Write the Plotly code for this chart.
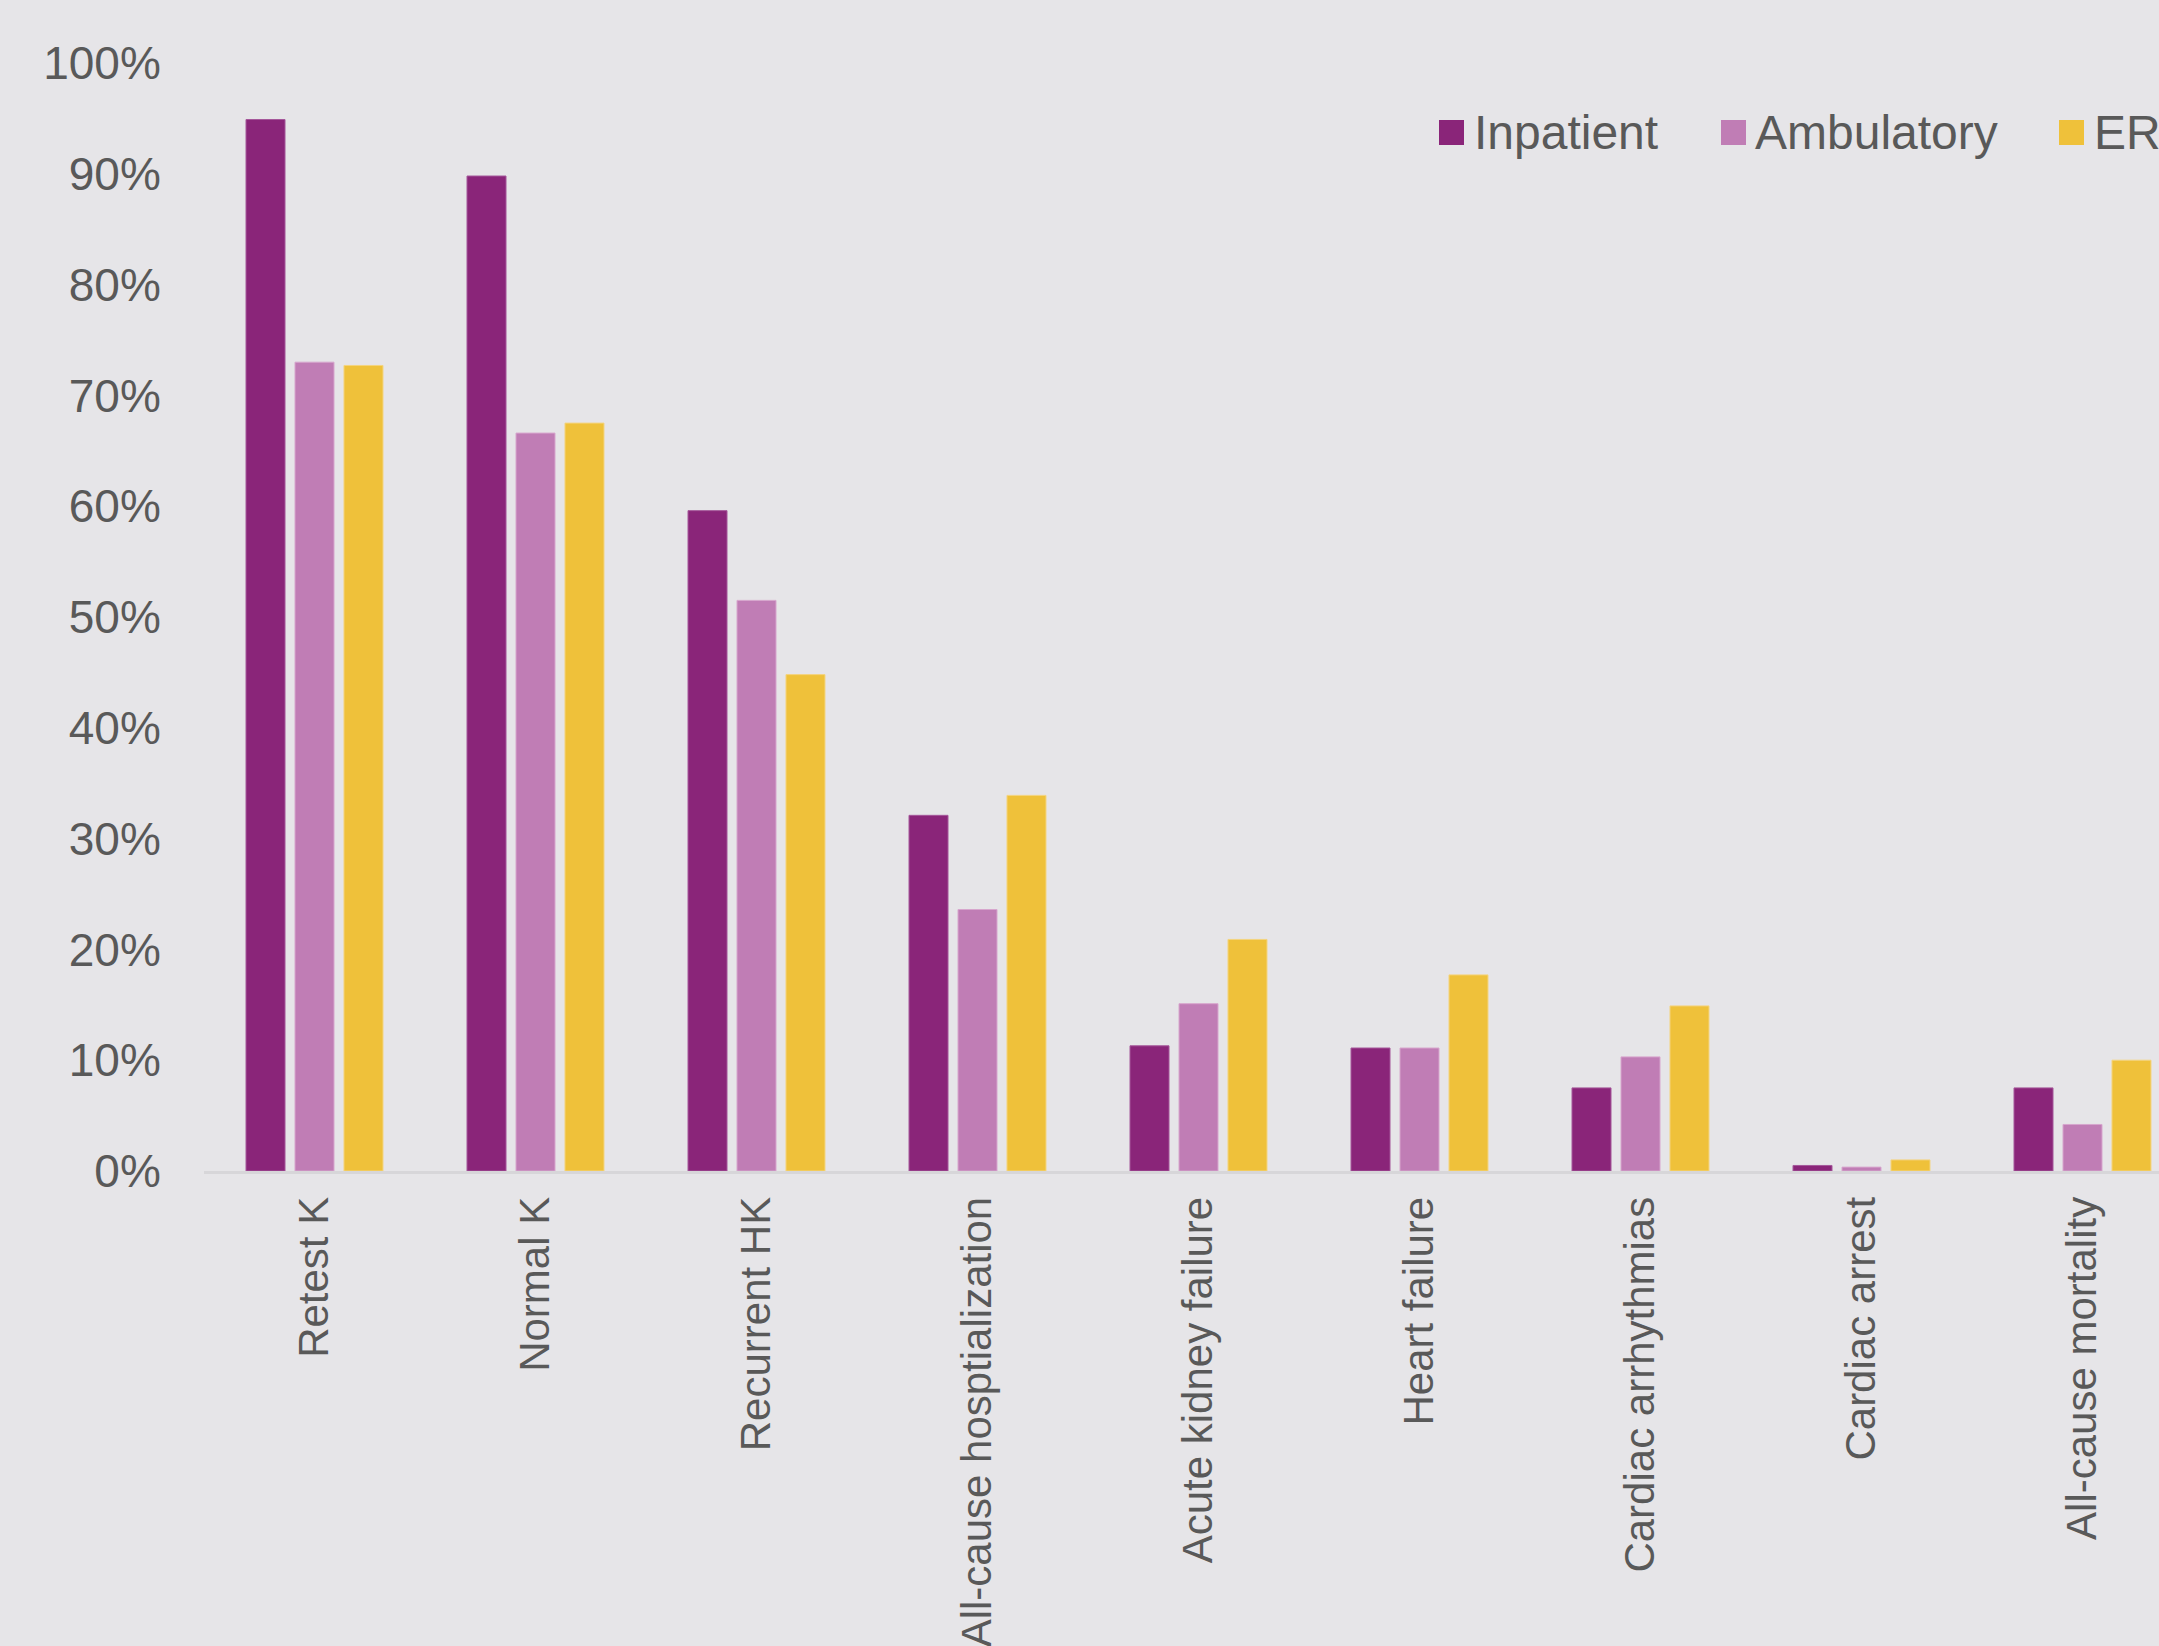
import plotly.graph_objects as go

# Outcome categories along the x axis
categories = [
    "Retest K",
    "Normal K",
    "Recurrent HK",
    "All-cause hosptialization",
    "Acute kidney failure",
    "Heart failure",
    "Cardiac arrhythmias",
    "Cardiac arrest",
    "All-cause mortality",
]

# Percent of patients per care setting
inpatient = [94.9, 89.8, 59.6, 32.1, 11.3, 11.1, 7.5, 0.5, 7.5]
ambulatory = [73.0, 66.6, 51.5, 23.6, 15.1, 11.1, 10.3, 0.35, 4.2]
er = [72.7, 67.5, 44.8, 33.9, 20.9, 17.7, 14.9, 1.0, 10.0]

series_names = ["Inpatient", "Ambulatory", "ER"]
series_values = [inpatient, ambulatory, er]
series_colors = ["#8a2579", "#c07db5", "#efc13a"]
series_edges = ["#a5579a", "#d7a6cd", "#f4d47f"]

y_ticks = list(range(0, 101, 10))

FONT = "Liberation Sans, Arial, sans-serif"
TEXT = "#595959"
BG = "#e6e5e8"

W, H = 2159, 1646
PLOT_L, PLOT_T, PLOT_B = 204, 63, 1171
PLOT_W = W - PLOT_L
PLOT_H = PLOT_B - PLOT_T
CAT_PX = 221.0

fig = go.Figure()
for name, vals, col, edge in zip(series_names, series_values, series_colors, series_edges):
    fig.add_trace(go.Bar(
        x=categories, y=vals, name=name,
        marker=dict(color=col, line=dict(color=edge, width=1)),
        showlegend=False,
    ))

# Legend drawn as swatches + labels along the top right
def px_x(p):
    return (p - PLOT_L) / PLOT_W

def px_y(p):
    return (PLOT_B - p) / PLOT_H

legend_swatch_x = [1439, 1721, 2059]
legend_text_x = [1472, 1753, 2092]
sw_top, sw_bot = 120, 145
shapes, annotations = [], []
for name, col, sx, tx in zip(series_names, series_colors, legend_swatch_x, legend_text_x):
    shapes.append(dict(
        type="rect", xref="paper", yref="paper",
        x0=px_x(sx), x1=px_x(sx + 25), y0=px_y(sw_bot), y1=px_y(sw_top),
        fillcolor=col, line=dict(width=0),
    ))
    annotations.append(dict(
        xref="paper", yref="paper", x=px_x(tx), y=px_y(132),
        xanchor="left", yanchor="middle", showarrow=False,
        text=name, font=dict(family=FONT, size=48, color=TEXT),
    ))

fig.update_layout(
    width=W, height=H,
    margin=dict(l=PLOT_L, r=0, t=PLOT_T, b=H - PLOT_B, autoexpand=False),
    paper_bgcolor=BG, plot_bgcolor=BG,
    barmode="group", bargap=0.335, bargroupgap=0.204,
    font=dict(family=FONT, color=TEXT),
    shapes=shapes, annotations=annotations,
    showlegend=False,
)
fig.update_xaxes(
    type="category",
    range=[-0.5, -0.5 + PLOT_W / CAT_PX],
    tickangle=-90,
    tickfont=dict(family=FONT, size=42, color=TEXT),
    ticks="outside", ticklen=0, tickcolor=BG, ticklabelstandoff=6,
    showline=True, linecolor="#d7d6d9", linewidth=3,
    showgrid=False, zeroline=False, automargin=False,
)
fig.update_yaxes(
    range=[0, 100],
    tickvals=y_ticks,
    ticktext=[f"{v}%" for v in y_ticks],
    tickfont=dict(family=FONT, size=46, color=TEXT),
    ticks="outside", ticklen=0, tickcolor=BG, ticklabelstandoff=33,
    showline=False, showgrid=False, zeroline=False, automargin=False,
)

fig.write_html("out.html")
